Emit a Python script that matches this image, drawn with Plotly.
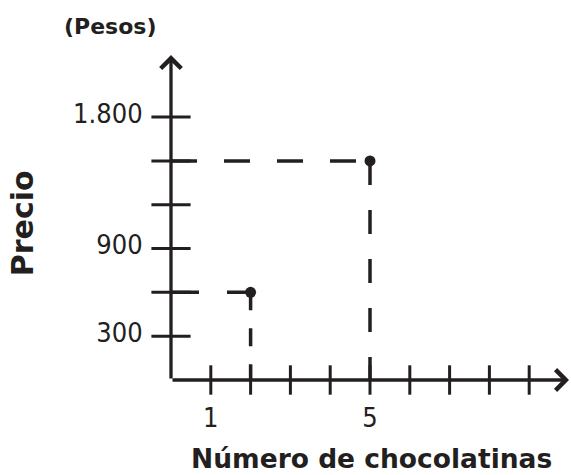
import plotly.graph_objects as go

# Data
x_ticks = [1, 2, 3, 4, 5, 6, 7, 8, 9]
y_ticks = [300, 600, 900, 1200, 1500, 1800]
y_label_vals = [300, 900, 1800]
y_label_text = ["300", "900", "1.800"]
x_label_vals = [1, 5]
x_label_text = ["1", "5"]
points_x = [2, 5]
points_y = [600, 1500]
x_max = 10
y_max = 2225

# styles of the dashed guides (horizontal, vertical) for each point
h_dash = ["28px,28px", "26px,27px"]
v_dash = ["18px,18px", "24px,25px"]

INK = "#231f20"
REG = "DejaVu Sans Condensed, DejaVu Sans, sans-serif"
BOLD = "DejaVu Sans, sans-serif"

fig = go.Figure()

# dashed guide lines for each point
for px, py, hd, vd in zip(points_x, points_y, h_dash, v_dash):
    fig.add_trace(go.Scatter(
        x=[0, px], y=[py, py], mode="lines",
        line=dict(color=INK, width=3.5, dash=hd),
        hoverinfo="skip", cliponaxis=False))
    fig.add_trace(go.Scatter(
        x=[px, px], y=[py, 0], mode="lines",
        line=dict(color=INK, width=3.5, dash=vd),
        hoverinfo="skip", cliponaxis=False))

# tick marks crossing the axes
fig.add_trace(go.Scatter(
    x=[0] * len(y_ticks), y=y_ticks, mode="markers",
    marker=dict(symbol="line-ew-open", size=28, color=INK, line=dict(color=INK, width=3)),
    cliponaxis=False, hoverinfo="skip"))
fig.add_trace(go.Scatter(
    x=x_ticks, y=[0] * len(x_ticks), mode="markers",
    marker=dict(symbol="line-ns-open", size=21, color=INK, line=dict(color=INK, width=3)),
    cliponaxis=False, hoverinfo="skip"))

# points
fig.add_trace(go.Scatter(
    x=points_x, y=points_y, mode="markers",
    marker=dict(symbol="circle", size=11, color=INK),
    cliponaxis=False, hoverinfo="skip"))

# axes with arrowheads
fig.add_annotation(x=x_max, y=0, ax=0, ay=0, xref="x", yref="y", axref="x", ayref="y",
                   text="", showarrow=True, arrowhead=4, arrowwidth=3.3, arrowsize=1.2,
                   arrowcolor=INK)
fig.add_annotation(x=0, y=y_max, ax=0, ay=0, xref="x", yref="y", axref="x", ayref="y",
                   text="", showarrow=True, arrowhead=4, arrowwidth=3.3, arrowsize=1.2,
                   arrowcolor=INK)

# titles
fig.add_annotation(text="<b>(Pesos)</b>", x=-0.153, y=1.089, xref="paper", yref="paper",
                   showarrow=False, xanchor="center", yanchor="middle",
                   font=dict(family=BOLD, size=22, color=INK))
fig.add_annotation(text="<b>Precio</b>", x=-0.374, y=0.483, xref="paper", yref="paper",
                   showarrow=False, xanchor="center", yanchor="middle", textangle=-90,
                   font=dict(family=BOLD, size=30, color=INK))
fig.add_annotation(text="<b>Número de chocolatinas</b>", x=0.505, y=-0.243,
                   xref="paper", yref="paper",
                   showarrow=False, xanchor="center", yanchor="middle",
                   font=dict(family=BOLD, size=26.5, color=INK))

fig.update_layout(
    width=571, height=475,
    margin=dict(l=171, r=2, t=55, b=95),
    paper_bgcolor="white", plot_bgcolor="white",
    showlegend=False,
    xaxis=dict(range=[0, x_max], showgrid=False, zeroline=False, showline=False,
               tickmode="array", tickvals=x_label_vals, ticktext=x_label_text,
               ticks="outside", ticklen=14, tickcolor="rgba(0,0,0,0)",
               tickfont=dict(family=REG, size=27, color=INK)),
    yaxis=dict(range=[0, y_max], showgrid=False, zeroline=False, showline=False,
               tickmode="array", tickvals=y_label_vals, ticktext=y_label_text,
               ticks="outside", ticklen=22, tickcolor="rgba(0,0,0,0)",
               ticklabelshift=-4,
               tickfont=dict(family=REG, size=27, color=INK)),
)

fig.write_html("out.html", config={"displayModeBar": False},
               post_script="document.body.style.margin='0';document.body.style.overflow='hidden';")
